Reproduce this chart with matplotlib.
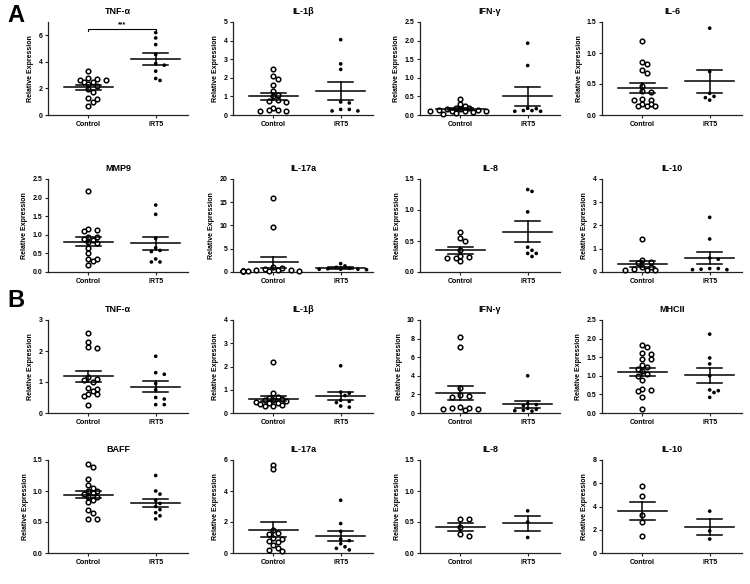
import numpy as np
import matplotlib
matplotlib.use("Agg")
import matplotlib.pyplot as plt

plt.rcParams['font.family'] = ['Liberation Sans', 'DejaVu Sans']
plt.rcParams['font.weight'] = 'bold'

groups = ["Control", "IRT5"]

# panel A (row 1 and 2)
titles_a = ["TNF-\u03b1", "IL-1\u03b2", "IFN-\u03b3", "IL-6", "MMP9", "IL-17a", "IL-8", "IL-10"]
ylims_a = [7, 5, 2.5, 1.5, 2.5, 20, 1.5, 4]
ysteps_a = [2, 1, 0.5, 0.5, 0.5, 5, 0.5, 1]
ctrl_a = [
    [3.3, 2.75, 2.7, 2.65, 2.6, 2.5, 2.45, 2.3, 2.2, 1.95, 1.75, 1.3, 1.2, 1.0, 0.7],
    [2.45, 2.08, 1.92, 1.63, 1.29, 1.09, 1.0, 0.78, 0.75, 0.72, 0.38, 0.29, 0.27, 0.24, 0.2],
    [0.44, 0.3, 0.25, 0.2, 0.18, 0.16, 0.15, 0.14, 0.13, 0.12, 0.12, 0.11, 0.1, 0.08, 0.05, 0.04],
    [1.2, 0.85, 0.82, 0.72, 0.67, 0.46, 0.38, 0.37, 0.26, 0.25, 0.24, 0.18, 0.17, 0.14, 0.14, 0.15],
    [2.18, 1.15, 1.12, 1.1, 0.95, 0.93, 0.9, 0.85, 0.8, 0.78, 0.65, 0.5, 0.35, 0.35, 0.3, 0.2],
    [16.0, 9.6, 1.0, 0.7, 0.5, 0.4, 0.3, 0.3, 0.2, 0.2, 0.2, 0.2, 0.3, 0.5, 0.8],
    [0.64, 0.55, 0.5, 0.35, 0.26, 0.24, 0.23, 0.22, 0.17],
    [1.4, 0.5, 0.45, 0.4, 0.2, 0.15, 0.1, 0.08, 0.1, 0.2],
]
irt5_a = [
    [6.2, 5.8, 5.3, 4.55, 3.87, 3.75, 3.3, 2.75, 2.6],
    [4.05, 2.75, 2.45, 0.7, 0.65, 0.3, 0.22, 0.22, 0.3],
    [1.93, 1.33, 0.18, 0.17, 0.12, 0.1, 0.1, 0.12],
    [1.4, 0.7, 0.35, 0.3, 0.28, 0.24],
    [1.8, 1.55, 0.9, 0.65, 0.58, 0.55, 0.35, 0.27, 0.27],
    [1.8, 1.3, 1.0, 0.8, 0.7, 0.6, 0.6, 0.6, 0.5],
    [1.33, 1.3, 0.97, 0.4, 0.35, 0.3, 0.3, 0.25],
    [2.35, 1.42, 0.6, 0.55, 0.15, 0.12, 0.1, 0.1, 0.15],
]

# panel B (row 3 and 4)
titles_b = ["TNF-\u03b1", "IL-1\u03b2", "IFN-\u03b3", "MHCII", "BAFF", "IL-17a", "IL-8", "IL-10"]
ylims_b = [3, 4, 10, 2.5, 1.5, 6, 1.5, 8]
ysteps_b = [1, 1, 2, 0.5, 0.5, 2, 0.5, 2]
ctrl_b = [
    [2.58, 2.28, 2.12, 2.1, 1.15, 1.1, 1.05, 1.0, 0.8, 0.78, 0.7, 0.62, 0.6, 0.55, 0.27],
    [2.2, 0.85, 0.7, 0.65, 0.6, 0.55, 0.55, 0.5, 0.48, 0.45, 0.42, 0.4, 0.35, 0.3, 0.28],
    [8.15, 7.05, 2.65, 1.9, 1.8, 1.75, 0.6, 0.55, 0.5, 0.45, 0.4, 0.3],
    [1.83, 1.78, 1.6, 1.58, 1.45, 1.44, 1.3, 1.25, 1.18, 1.12, 1.05, 1.0, 0.9, 0.65, 0.62, 0.6, 0.42, 0.12],
    [1.43, 1.38, 1.2, 1.1, 1.05, 1.0, 1.0, 0.97, 0.95, 0.9, 0.9, 0.85, 0.82, 0.7, 0.65, 0.55, 0.55],
    [5.7, 5.4, 1.5, 1.3, 1.2, 1.0, 0.9, 0.8, 0.7, 0.5, 0.3, 0.2, 0.15],
    [0.55, 0.55, 0.42, 0.3, 0.28],
    [5.8, 4.9, 3.3, 2.7, 1.5],
]
irt5_b = [
    [1.83, 1.3, 1.25, 0.95, 0.75, 0.5, 0.45, 0.27, 0.27],
    [2.03, 0.9, 0.85, 0.75, 0.55, 0.5, 0.45, 0.3, 0.25],
    [4.0, 0.9, 1.0, 0.8, 0.5, 0.4, 0.3, 0.25, 0.2],
    [2.12, 1.48, 1.32, 1.0, 0.62, 0.6, 0.55, 0.42],
    [1.25, 1.0, 0.95, 0.85, 0.8, 0.75, 0.7, 0.65, 0.6, 0.55],
    [3.4, 1.9, 1.4, 0.9, 0.8, 0.6, 0.4, 0.3, 0.2],
    [0.68, 0.5, 0.25],
    [3.6, 1.9, 1.2],
]

W, H = 750, 584
col_left = [48, 233, 420, 602]
ax_w = 140
row_top = [22, 179, 320, 460]
ax_h = 93
XLIM = (-0.6, 1.48)


def swarm(vals, ppu_y, ppu_x, step, gap):
    # simple beeswarm in pixel space, returns x offsets in data units
    placed = []
    offs = np.zeros(len(vals))
    order = np.argsort(-np.asarray(vals))
    for i in order:
        y = vals[i] * ppu_y
        for k in [0, 1, -1, 2, -2, 3, -3, 4, -4, 5, -5, 6, -6, 7, -7]:
            x = k * step
            if all((x - px) ** 2 + (y - py) ** 2 >= gap ** 2 for px, py in placed):
                break
        placed.append((x, y))
        offs[i] = x / ppu_x
    return offs


def draw_panel(ax, title, ctrl, irt5, ymax, ystep):
    ppu_y = ax_h / ymax
    ppu_x = ax_w / (XLIM[1] - XLIM[0])
    for gi, (vals, open_m) in enumerate([(ctrl, True), (irt5, False)]):
        vals = np.asarray(vals, dtype=float)
        offs = swarm(vals, ppu_y, ppu_x, 4.3, 4.6)
        if open_m:
            ax.scatter(gi + offs, vals, s=11, facecolor='white', edgecolor='black',
                       linewidth=1.1, zorder=3, clip_on=False)
        else:
            ax.scatter(gi + offs, vals, s=7, facecolor='black', edgecolor='none',
                       zorder=3, clip_on=False)
        m = vals.mean()
        se = vals.std(ddof=1) / np.sqrt(len(vals))
        ax.plot([gi - 0.36, gi + 0.36], [m, m], color='black', lw=1.1, zorder=4)
        ax.plot([gi, gi], [m - se, m + se], color='black', lw=1.1, zorder=4)
        for yy in (m - se, m + se):
            ax.plot([gi - 0.19, gi + 0.19], [yy, yy], color='black', lw=1.1, zorder=4)
    ax.set_xlim(*XLIM)
    ax.set_ylim(0, ymax)
    ticks = np.arange(0, ymax + ystep / 2, ystep)
    ax.set_yticks(ticks)
    if ystep < 1:
        ax.set_yticklabels([f"{t:.1f}" for t in ticks])
    else:
        ax.set_yticklabels([f"{t:g}" for t in ticks])
    ax.set_xticks([0, 1])
    ax.set_xticklabels(groups)
    ax.spines['top'].set_visible(False)
    ax.spines['right'].set_visible(False)
    for s in ('left', 'bottom'):
        ax.spines[s].set_linewidth(0.9)
        ax.spines[s].set_color('#222222')
    ax.tick_params(labelsize=5, length=2.5, width=0.8, pad=1.5, color='#222222')
    for lab in ax.get_xticklabels() + ax.get_yticklabels():
        lab.set_fontweight('bold')
    ax.set_title(title, fontsize=6.5, fontweight='bold', pad=6)
    ax.set_ylabel("Relative Expression", fontsize=5, fontweight='bold', labelpad=3)


fig = plt.figure(figsize=(W / 100, H / 100), dpi=100)

panels = []
for r in range(4):
    for c in range(4):
        left = col_left[c] / W
        bottom = 1 - (row_top[r] + ax_h) / H
        ax = fig.add_axes([left, bottom, ax_w / W, ax_h / H])
        panels.append(ax)

for i in range(8):
    draw_panel(panels[i], titles_a[i], ctrl_a[i], irt5_a[i], ylims_a[i], ysteps_a[i])
    draw_panel(panels[8 + i], titles_b[i], ctrl_b[i], irt5_b[i], ylims_b[i], ysteps_b[i])

# significance bracket in first panel
ax0 = panels[0]
ax0.plot([0, 0, 1, 1], [6.3, 6.5, 6.5, 6.3], color='black', lw=0.8, clip_on=False)
ax0.text(0.5, 6.55, "***", ha='center', va='bottom', fontsize=5, fontweight='bold')

fig.text(16 / W, 1 - 16 / H, "A", fontsize=17, fontweight='bold', ha='center', va='center')
fig.text(16 / W, 1 - 300 / H, "B", fontsize=17, fontweight='bold', ha='center', va='center')

fig.savefig("out.png", dpi=100)
